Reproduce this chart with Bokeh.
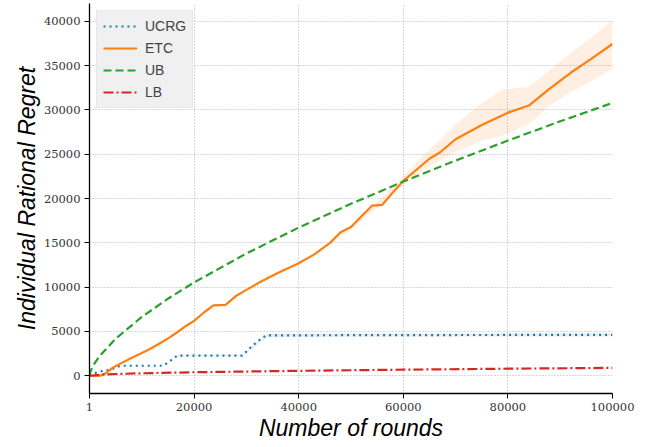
from bokeh.plotting import figure
from bokeh.models import Range1d, FixedTicker, Legend, LegendItem
from bokeh.embed import file_html
from bokeh.resources import INLINE

# ---------------- data ----------------
ucrg_x = [1, 1000, 2500, 4000, 5900, 14100, 15500, 16800, 29200, 31000, 33000, 34000, 50000, 70000, 100000]
ucrg_y = [0, 300, 550, 700, 1130, 1130, 1700, 2280, 2280, 3300, 4300, 4560, 4580, 4600, 4620]
ucrg_band_x = [16800, 29200, 34000, 50000, 70000, 100000]
ucrg_band_lo = [2200, 2200, 4380, 4400, 4420, 4440]
ucrg_band_hi = [2360, 2360, 4740, 4760, 4780, 4800]

etc_x = [1, 2000, 3000, 4600, 6000, 8000, 11000, 13000, 15400, 16500, 18600, 20000, 22000,
         23700, 26000, 28000, 30000, 33000, 36000, 40000, 43000, 46000, 48000, 50000, 52000,
         54000, 56000, 58000, 60000, 62000, 65000, 67000, 70000, 75000, 80000, 84000, 88000,
         92000, 96000, 100000]
etc_y = [0, 0, 250, 970, 1400, 2000, 2860, 3500, 4360, 4800, 5680, 6200, 7200,
         7940, 8000, 9000, 9700, 10700, 11600, 12700, 13700, 15000, 16200, 16800, 18000,
         19200, 19300, 20700, 22000, 23000, 24500, 25200, 26700, 28300, 29700, 30500, 32400,
         34200, 35800, 37450]
etc_band_x = [46000, 50000, 55000, 60000, 64000, 67000, 70000, 75000, 79000, 84000, 88000, 92000, 96000, 100000]
etc_band_lo = [14900, 16550, 19000, 21500, 23300, 24300, 25300, 26500, 27100, 28400, 30500, 32000, 33300, 34650]
etc_band_hi = [15100, 17050, 19600, 22500, 25000, 26600, 28400, 30800, 32300, 32600, 34500, 36400, 38200, 40100]

ub_x = [1, 250, 500, 1000, 2000, 5000, 10000, 15000, 20000, 30000, 40000, 50000, 60000, 70000, 80000, 90000, 100000]
ub_y = [14, 570, 900, 1430, 2270, 4180, 6640, 8700, 10540, 13800, 16730, 19410, 21920, 24290, 26550, 28720, 30800]

lb_x = [1, 2000, 5000, 10000, 20000, 40000, 60000, 80000, 100000]
lb_y = [0, 125, 200, 280, 400, 560, 690, 800, 890]

x_ticks = [1, 20000, 40000, 60000, 80000, 100000]
y_ticks = [0, 5000, 10000, 15000, 20000, 25000, 30000, 35000, 40000]

# ---------------- figure ----------------
p = figure(width=650, height=446, output_backend="svg", toolbar_location=None,
           x_range=Range1d(1, 100000), y_range=Range1d(-2000, 42020),
           min_border_left=89, min_border_right=38, min_border_top=3, min_border_bottom=53)
p.outline_line_color = None
p.background_fill_color = "white"

blue, orange, green, red = "#1f77b4", "#ff7f0e", "#2ca02c", "#d62728"

p.varea(x=ucrg_band_x, y1=ucrg_band_lo, y2=ucrg_band_hi, fill_color=blue, fill_alpha=0.12)
p.varea(x=etc_band_x, y1=etc_band_lo, y2=etc_band_hi, fill_color=orange, fill_alpha=0.12)

r_ucrg = p.line(ucrg_x, ucrg_y, line_color=blue, line_width=2.2, line_dash="2 4")
r_etc = p.line(etc_x, etc_y, line_color=orange, line_width=2.2)
r_ub = p.line(ub_x, ub_y, line_color=green, line_width=2.2, line_dash="8 4")
r_lb = p.line(lb_x, lb_y, line_color=red, line_width=2.2, line_dash="10 3 2 3")

legend = Legend(items=[LegendItem(label="UCRG", renderers=[r_ucrg]),
                       LegendItem(label="ETC", renderers=[r_etc]),
                       LegendItem(label="UB", renderers=[r_ub]),
                       LegendItem(label="LB", renderers=[r_lb])],
                location="top_left")
legend.background_fill_color = "#f0f0f0"
legend.background_fill_alpha = 1.0
legend.border_line_color = "#e0e0e0"
legend.label_text_font = "Liberation Sans"
legend.label_text_font_size = "14px"
legend.label_height = 18
legend.glyph_height = 18
legend.glyph_width = 34
legend.spacing = 4
legend.padding = 6
legend.margin = 7
legend.label_standoff = 8
p.add_layout(legend)

# axes
for ax in (p.xaxis[0], p.yaxis[0]):
    ax.axis_line_color = "black"
    ax.axis_line_width = 1.3
    ax.major_tick_line_color = "black"
    ax.major_tick_out = 5
    ax.major_tick_in = 0
    ax.minor_tick_line_color = None
    ax.major_label_text_font = "DejaVu Serif"
    ax.major_label_text_font_size = "11.5px"
    ax.major_label_text_color = "#333333"
    ax.major_label_standoff = 4
    ax.axis_label_text_font = "Liberation Sans"
    ax.axis_label_text_font_style = "italic"
    ax.axis_label_text_font_size = "23px"
    ax.axis_label_text_color = "black"
    ax.axis_label_standoff = 1

p.xaxis.ticker = FixedTicker(ticks=x_ticks)
p.yaxis.ticker = FixedTicker(ticks=y_ticks)
p.xaxis.major_label_overrides = {t: str(t) for t in x_ticks}
p.yaxis.major_label_overrides = {t: str(t) for t in y_ticks}
p.xaxis.axis_label = "Number of rounds"
p.yaxis.axis_label = "Individual Rational Regret"

for g in (p.xgrid[0], p.ygrid[0]):
    g.grid_line_color = "#b0b0b0"
    g.grid_line_dash = "1 2"
    g.grid_line_width = 1

open("out.html", "w").write(file_html(p, INLINE))
